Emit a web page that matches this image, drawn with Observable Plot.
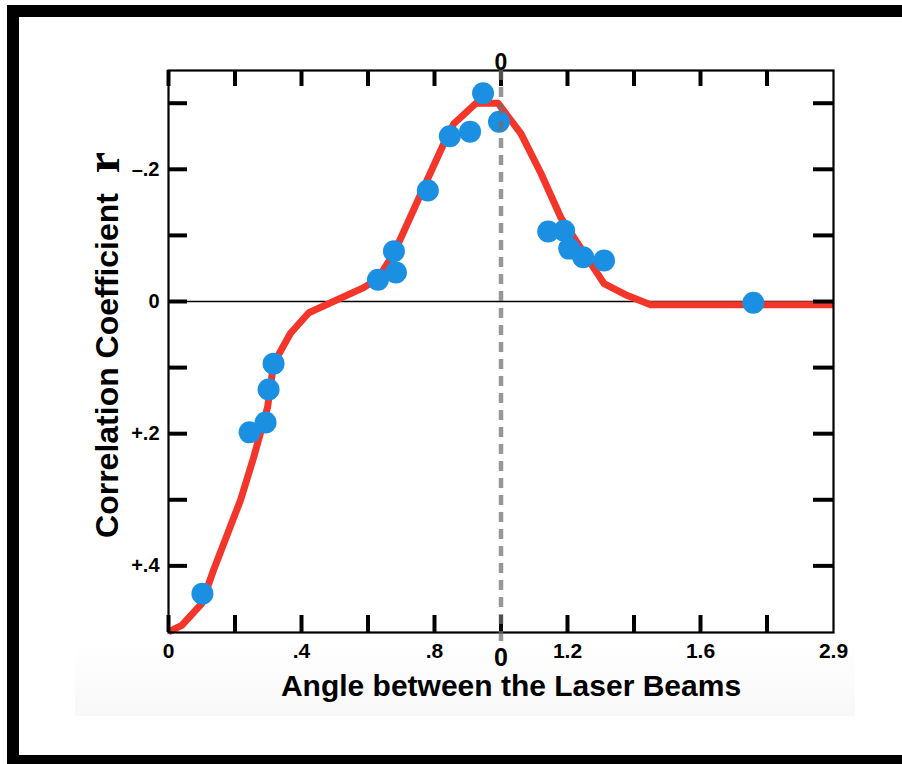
<!DOCTYPE html>
<html>
<head>
<meta charset="utf-8">
<script src="https://cdn.jsdelivr.net/npm/d3@7"></script>
<script src="https://cdn.jsdelivr.net/npm/@observablehq/plot@0.6"></script>
<style>
  html, body { margin: 0; padding: 0; background: #fff; overflow: hidden; }
  #wrap { position: relative; width: 902px; height: 764px; overflow: hidden; }
  #band { position: absolute; left: 75px; top: 640px; width: 780px; height: 76px;
          background: linear-gradient(#ffffff, #f8f8f8); z-index: 0; }
  #chart { position: absolute; left: 0; top: 0; z-index: 1; }
  #border { position: absolute; left: 7px; top: 5px; width: 1000px; height: 762px;
            box-sizing: border-box; border: 12px solid #000; border-right: none;
            z-index: 2; pointer-events: none; }
</style>
</head>
<body>
<div id="wrap">
  <div id="band"></div>
  <div id="chart"></div>
  <div id="border"></div>
</div>
<script>
// Fitted red curve
const curveX = [0, 0.04, 0.10, 0.135, 0.217, 0.256, 0.298, 0.316, 0.367, 0.422, 0.587, 0.63, 0.678, 0.759, 0.828, 0.858, 0.925, 0.991, 1.06, 1.12, 1.18, 1.25, 1.31, 1.38, 1.45, 2.0];
const curveY = [0.50, 0.49, 0.457, 0.407, 0.30, 0.236, 0.16, 0.094, 0.048, 0.017, -0.021, -0.035, -0.073, -0.163, -0.239, -0.269, -0.30, -0.30, -0.254, -0.194, -0.127, -0.073, -0.027, -0.009, 0.005, 0.005];

// Measured points
const pointX = [0.102, 0.244, 0.292, 0.301, 0.316, 0.63, 0.684, 0.678, 0.78, 0.846, 0.907, 0.946, 0.994, 1.142, 1.19, 1.205, 1.247, 1.31, 1.759];
const pointY = [0.442, 0.198, 0.183, 0.133, 0.094, -0.033, -0.044, -0.076, -0.168, -0.25, -0.257, -0.315, -0.272, -0.106, -0.107, -0.080, -0.067, -0.062, 0.002];

// Axes
const xTickValues = [0, 0.2, 0.4, 0.6, 0.8, 1.0, 1.2, 1.4, 1.6, 1.8];
const xLabelValues = [0, 0.4, 0.8, 1.2, 1.6, 2.0];
const xLabelText = ["0", ".4", ".8", "1.2", "1.6", "2.9"];
const yTickValues = [-0.3, -0.2, -0.1, 0, 0.1, 0.2, 0.3, 0.4];
const yLabelValues = [-0.2, 0, 0.2, 0.4];
const yLabelText = ["\u2013.2", "0", "+.2", "+.4"];
const centerValue = [1.0];
const centerLabel = "0";
const xTitle = "Angle between the Laser Beams";
const yTitle = "Correlation Coefficient";
const yTitleSymbol = "r";

const W = 902, H = 764;
const mL = 168, mR = 69, mT = 70, mB = 132;
const pw = W - mL - mR, ph = H - mT - mB;
const font = "Liberation Sans, Arial, Helvetica, sans-serif";

const curveIdx = d3.range(curveX.length);
const pointIdx = d3.range(pointX.length);

const chart = Plot.plot({
  width: W,
  height: H,
  marginLeft: mL, marginRight: mR, marginTop: mT, marginBottom: mB,
  style: { background: "transparent", fontFamily: font, color: "#000", overflow: "visible" },
  x: { domain: [0, 2.0], axis: null },
  y: { domain: [-0.3495, 0.5008], reverse: true, axis: null },
  marks: [
    Plot.ruleY([0], { stroke: "#000", strokeWidth: 1.5 }),
    Plot.line(curveIdx, { x: i => curveX[i], y: i => curveY[i], stroke: "#f4352a", strokeWidth: 7, strokeLinejoin: "round", strokeLinecap: "butt" }),
    Plot.dot(pointIdx, { x: i => pointX[i], y: i => pointY[i], r: 11, fill: "#1b90e3", stroke: "none" }),
    Plot.frame({ stroke: "#000", strokeWidth: 2.2 }),
    Plot.ruleX(xTickValues, { x: d => d, insetBottom: ph - 16, stroke: "#000", strokeWidth: 4 }),
    Plot.ruleX(xTickValues, { x: d => d, insetTop: ph - 17, stroke: "#000", strokeWidth: 4 }),
    Plot.ruleY(yTickValues, { y: d => d, insetRight: pw - 19, stroke: "#000", strokeWidth: 4 }),
    Plot.ruleY(yTickValues, { y: d => d, insetLeft: pw - 20, stroke: "#000", strokeWidth: 4 }),
    Plot.ruleX(centerValue, { x: d => d, insetTop: 0, insetBottom: -10, stroke: "#6f6f6f", strokeOpacity: 0.72, strokeWidth: 4.5, strokeDasharray: "10,7" }),
    Plot.text(xLabelValues, { x: d => d, text: (d, i) => xLabelText[i], frameAnchor: "bottom", textAnchor: "middle", dy: 25, fontSize: 21, fontWeight: "bold", fill: "#000" }),
    Plot.text(centerValue, { x: d => d, text: () => centerLabel, frameAnchor: "bottom", textAnchor: "middle", dy: 33, fontSize: 25, fontWeight: "bold", fill: "#000" }),
    Plot.text(centerValue, { x: d => d, text: () => centerLabel, frameAnchor: "top", textAnchor: "middle", dy: -17, fontSize: 23, fontWeight: "bold", fill: "#000" }),
    Plot.text(yLabelValues, { y: d => d, text: (d, i) => yLabelText[i], frameAnchor: "left", textAnchor: "end", dx: -9, fontSize: 20, fontWeight: "bold", fill: "#000" }),
    Plot.text([xTitle], { text: d => d, frameAnchor: "bottom", textAnchor: "middle", dx: 10, dy: 63, fontSize: 30, fontWeight: "bold", fill: "#000" }),
    Plot.text([yTitle], { text: d => d, frameAnchor: "left", textAnchor: "middle", rotate: -90, dx: -61, dy: 14, fontSize: 32, fontWeight: "bold", fill: "#000" }),
    Plot.text([yTitleSymbol], { text: d => d, frameAnchor: "left", textAnchor: "middle", rotate: -90, dx: -65, dy: -189, fontSize: 48, fontWeight: "bold", fontFamily: "Liberation Serif, Times New Roman, serif", fill: "#000" })
  ]
});
document.getElementById("chart").appendChild(chart);
</script>
</body>
</html>
